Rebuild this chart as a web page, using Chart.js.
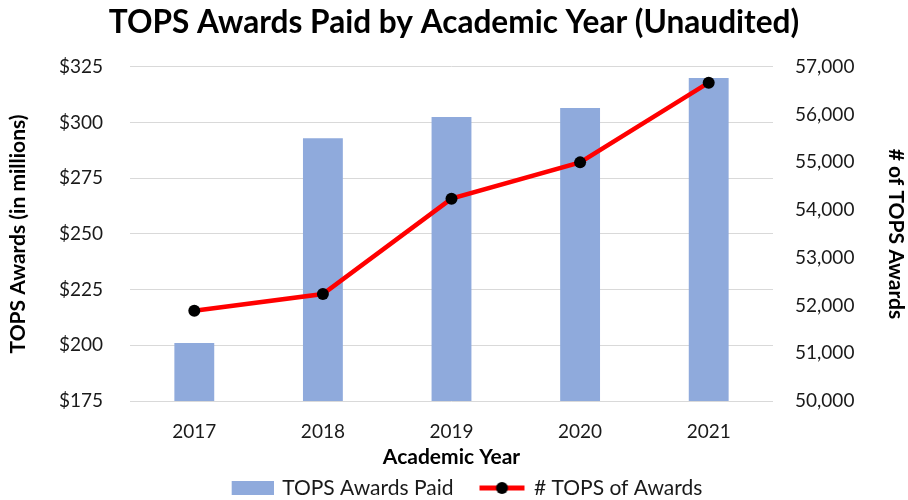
<!DOCTYPE html>
<html><head><meta charset="utf-8">
<script src="https://cdn.jsdelivr.net/npm/chart.js@4"></script>
<style>html,body{margin:0;padding:0;background:#fff}#wrap{width:908px;height:500px}</style>
</head><body><div id="wrap"><canvas id="c" width="908" height="500"></canvas></div>
<script>
const years = ['2017', '2018', '2019', '2020', '2021'];
const awardsPaid = [201, 293, 302.5, 306.5, 320];          // $ millions
const awardCount = [51890, 52240, 54240, 55000, 56670];    // number of awards
const leftTickRange = [175, 325, 25];
const rightTickRange = [50000, 57000, 1000];
const titleText = 'TOPS Awards Paid by Academic Year (Unaudited)';
const seriesNames = ['TOPS Awards Paid', '# TOPS of Awards'];

const FONT = 'Lato, "Open Sans", sans-serif';
const BAR = '#8FAADC';
const LINE = '#FF0000';
const INK = '#1a1a1a';

function barIcon() {
  const c = document.createElement('canvas'); c.width = 70; c.height = 16;
  const x = c.getContext('2d'); x.fillStyle = BAR; x.fillRect(28, 1, 42, 14); return c;
}
function lineIcon() {
  const c = document.createElement('canvas'); c.width = 70; c.height = 14;
  const x = c.getContext('2d');
  x.strokeStyle = LINE; x.lineWidth = 5; x.beginPath(); x.moveTo(24, 7); x.lineTo(69, 7); x.stroke();
  x.fillStyle = '#000'; x.beginPath(); x.arc(46.5, 7, 6, 0, Math.PI * 2); x.fill(); return c;
}
const icons = [barIcon(), lineIcon()];

new Chart(document.getElementById('c'), {
  data: {
    labels: years,
    datasets: [
      { type: 'bar', label: seriesNames[0], data: awardsPaid, yAxisID: 'y', backgroundColor: BAR,
        categoryPercentage: 1, barPercentage: 0.31, order: 1 },
      { type: 'line', label: seriesNames[1], data: awardCount, yAxisID: 'y1', borderColor: LINE, borderWidth: 4.5,
        pointRadius: 6, pointHoverRadius: 6, pointBackgroundColor: '#000', pointBorderColor: '#000', pointBorderWidth: 0,
        tension: 0, order: 0 }
    ]
  },
  options: {
    responsive: false, animation: false, devicePixelRatio: 1,
    layout: { padding: { left: 0, right: 0, top: 0, bottom: -8.5 } },
    plugins: {
      tooltip: { enabled: false },
      title: { display: true, text: titleText, color: '#000',
        font: { family: FONT, size: 31.6, weight: 'bold' }, padding: { top: 4, bottom: 25 } },
      legend: { position: 'bottom',
        labels: { usePointStyle: true, pointStyleWidth: 66, padding: 4, color: INK,
          font: { family: FONT, size: 21 },
          generateLabels: () => seriesNames.map((t, i) => ({ text: t, pointStyle: icons[i], datasetIndex: i,
            fillStyle: 'transparent', strokeStyle: 'transparent', lineWidth: 0, fontColor: INK })) } }
    },
    scales: {
      x: { grid: { display: false, drawTicks: false }, border: { display: false },
        ticks: { color: INK, padding: 19.6, font: { family: FONT, size: 19 } },
        title: { display: true, text: 'Academic Year', color: '#000', font: { family: FONT, size: 21, weight: 'bold' },
          padding: { top: 0, bottom: 3.9 } },
        afterFit: s => { s.height = 72.5; } },
      y: { position: 'left', min: leftTickRange[0], max: leftTickRange[1],
        grid: { color: '#d9d9d9', lineWidth: 1, drawTicks: false }, border: { display: false },
        ticks: { stepSize: leftTickRange[2], color: INK, padding: 27, font: { family: FONT, size: 19 },
          callback: v => '$' + v },
        title: { display: true, text: 'TOPS Awards (in millions)', color: '#000',
          font: { family: FONT, size: 21, weight: 'bold' }, padding: { top: 5.4, bottom: 0 } },
        afterFit: s => { s.width = 130; } },
      y1: { position: 'right', min: rightTickRange[0], max: rightTickRange[1],
        grid: { display: false, drawTicks: false }, border: { display: false },
        ticks: { stepSize: rightTickRange[2], color: INK, padding: 22, font: { family: FONT, size: 19 },
          callback: v => v.toLocaleString('en-US') },
        title: { display: true, text: '# of TOPS Awards', color: '#000',
          font: { family: FONT, size: 21, weight: 'bold' }, padding: { top: 0, bottom: 0 } },
        afterFit: s => { s.width = 135; } }
    }
  }
});
</script></body></html>
